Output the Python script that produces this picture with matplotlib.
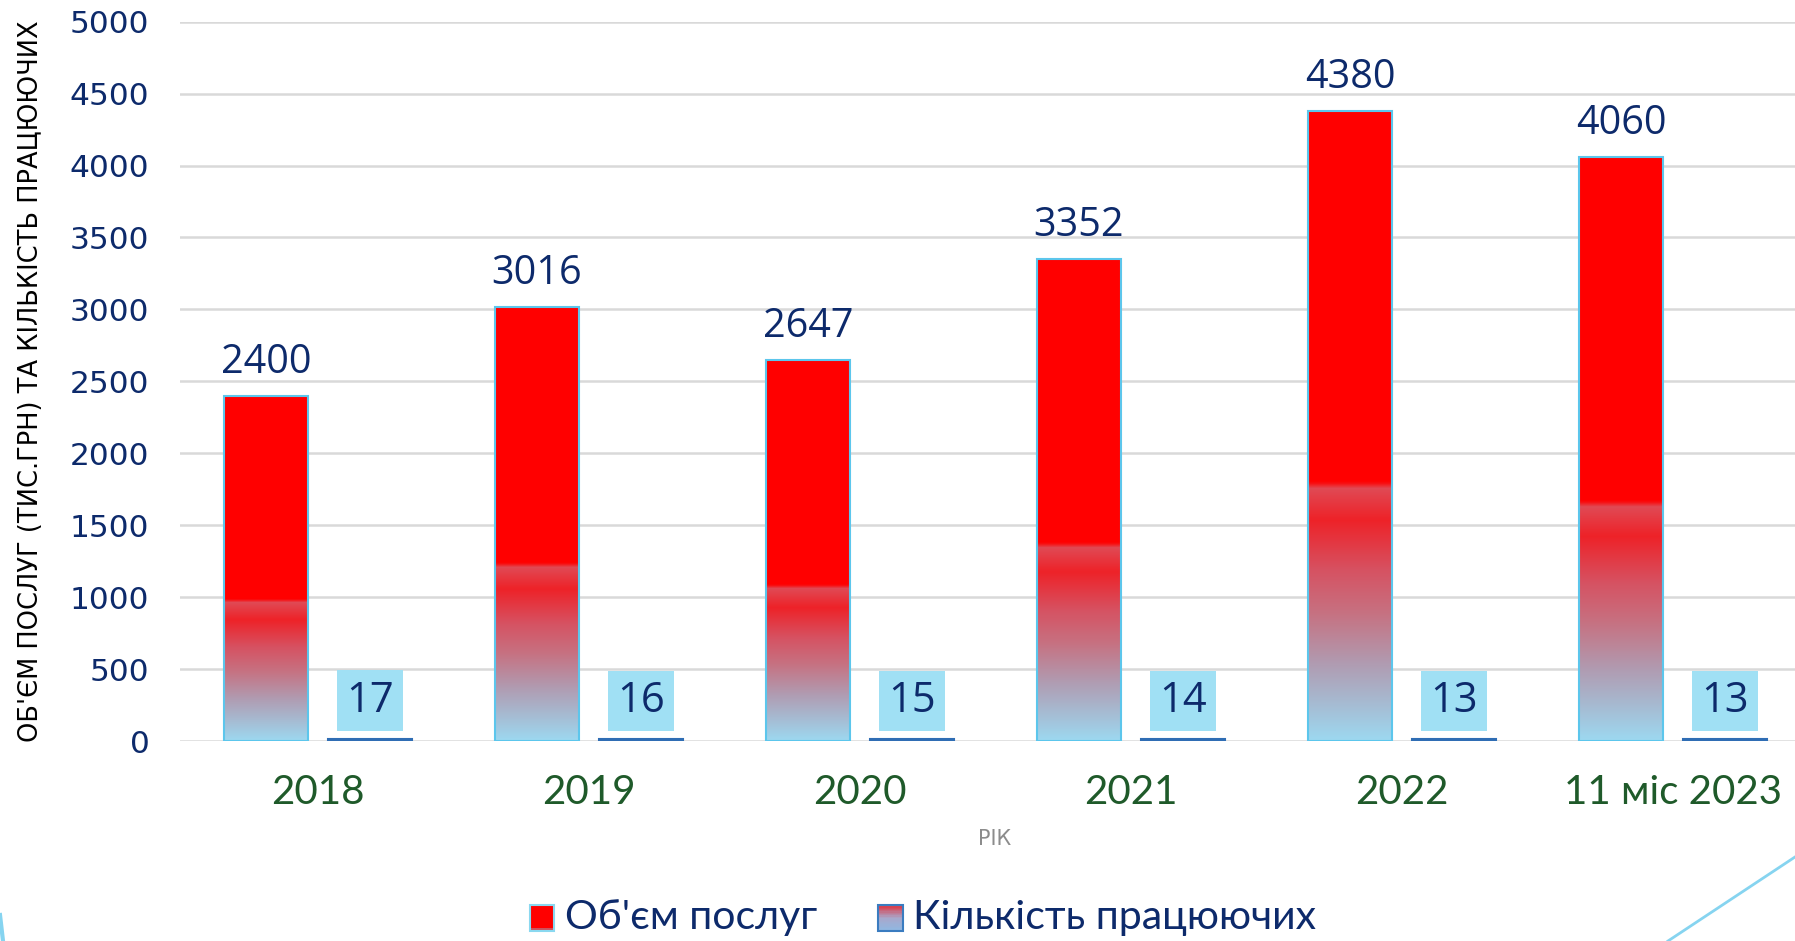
import numpy as np
import matplotlib
matplotlib.use("Agg")
import matplotlib.pyplot as plt
from matplotlib.colors import LinearSegmentedColormap
from matplotlib.patches import Rectangle
from matplotlib.legend_handler import HandlerBase
from matplotlib.lines import Line2D

# -------- data --------
categories = ["2018", "2019", "2020", "2021", "2022", "11 міс 2023"]
volume = [2400, 3016, 2647, 3352, 4380, 4060]      # Об'єм послуг, тис. грн
workers = [17, 16, 15, 14, 13, 13]                 # Кількість працюючих

y_label = "ОБ'ЄМ ПОСЛУГ (ТИС.ГРН) ТА КІЛЬКІСТЬ ПРАЦЮЮЧИХ"
x_label = "РІК"
legend_labels = ["Об'єм послуг", "Кількість працюючих"]

navy = "#0d2a6b"
green = "#1f5a2a"

# gradient of the red bars (bottom -> top)
red_cmap = LinearSegmentedColormap.from_list("redgrad", [
    (0.0, "#9dd8f0"),
    (0.12, "#b09cb2"),
    (0.20, "#c67282"),
    (0.27, "#d65262"),
    (0.35, "#ee2228"),
    (0.40, "#e04a55"),
    (0.41, "#ff0000"),
    (1.0, "#ff0000"),
])
blue_cmap = LinearSegmentedColormap.from_list("bluegrad", [
    (0.0, "#8fb8e2"), (0.5, "#a8a8cc"), (1.0, "#e0303c")])

fig = plt.figure(figsize=(17.95, 9.41), dpi=100)
ax = fig.add_axes([0.1003, 0.2125, 0.8997, 0.7645])

x = np.arange(len(categories))
w = 0.31
off = 0.192

red_bars = ax.bar(x - off, volume, width=w, color="none", edgecolor="#5cc6ec",
                  linewidth=1.5, zorder=3)
grad = np.linspace(0, 1, 256).reshape(-1, 1)
for b in red_bars:
    x0, y0 = b.get_x(), b.get_y()
    im = ax.imshow(grad, cmap=red_cmap, origin="lower", aspect="auto",
                   extent=(x0, x0 + b.get_width(), y0, y0 + b.get_height()),
                   zorder=2, interpolation="bilinear")
    im.set_clip_path(b)

ax.bar(x + off, workers, width=w, color="#4a86c5", edgecolor="#2f6db4",
       linewidth=1.5, zorder=3)

for xi, v in zip(x, volume):
    ax.annotate(str(v), (xi - off, v), xytext=(0, 33), textcoords="offset pixels",
                ha="center", va="center", fontsize=28.5, color=navy,
                family="Open Sans", zorder=5)
for xi, v in zip(x, workers):
    ax.annotate(str(v), (xi + off, v), xytext=(0, 38), textcoords="offset pixels",
                ha="center", va="center", fontsize=30, color=navy,
                family="Open Sans", zorder=5,
                bbox=dict(boxstyle="square,pad=0.22", fc="#a0e0f4", ec="none"))

ax.set_xlim(-0.509, 5.45)
ax.set_ylim(0, 5000)
ax.set_yticks(np.arange(0, 5001, 500))
ax.yaxis.grid(True, color="#d9d9d9", linewidth=1.8, zorder=0)
ax.set_axisbelow(True)
for s in ax.spines.values():
    s.set_visible(False)
ax.tick_params(length=0)
ax.tick_params(axis="y", labelsize=22.5, labelcolor=navy, pad=22)
ax.set_xticks(x)
ax.set_xticklabels(categories, fontsize=29, color=green, family="Lato")
ax.tick_params(axis="x", pad=24)
for lbl in ax.get_yticklabels():
    lbl.set_family("DejaVu Sans")

fig.text(0.554, 1 - 839 / 941, x_label, ha="center", va="center",
         fontsize=15, color="#8c8c8c", family="DejaVu Sans")
fig.text(31 / 1795, 1 - 381 / 941, y_label, rotation=90, ha="center",
         va="center", fontsize=18.5, color="black",
         family=["Liberation Sans Narrow", "DejaVu Sans"])


class GradientHandler(HandlerBase):
    def __init__(self, cmap, edge):
        super().__init__()
        self.cmap = cmap
        self.edge = edge

    def create_artists(self, legend, orig_handle, xdescent, ydescent,
                       width, height, fontsize, trans):
        arts = []
        n = 20
        side = min(width, height * 1.1)
        x0 = -xdescent + width - side
        y0 = -ydescent - 2
        h = side * 1.05
        for i in range(n):
            arts.append(Rectangle((x0, y0 + h * i / n), side, h / n + 0.3,
                                  facecolor=self.cmap((i + 0.5) / n),
                                  edgecolor="none", transform=trans))
        arts.append(Rectangle((x0, y0), side, h, facecolor="none",
                              edgecolor=self.edge, linewidth=1.5,
                              transform=trans))
        return arts


legend_red = LinearSegmentedColormap.from_list("lr", [
    (0.0, "#7fd3f0"), (0.12, "#ff0000"), (1.0, "#ff0000")])
h1 = Line2D([], [])
h2 = Line2D([], [])
leg = fig.legend([h1, h2], legend_labels, loc="center",
                 bbox_to_anchor=(923 / 1795, 1 - 918 / 941), ncol=2,
                 frameon=False, handlelength=0.6, handleheight=0.6,
                 handletextpad=0.25, columnspacing=1.5,
                 prop={"family": "Lato", "size": 29.5},
                 handler_map={h1: GradientHandler(legend_red, "#8ad8f0"),
                              h2: GradientHandler(blue_cmap, "#3a7cc0")})
for t in leg.get_texts():
    t.set_color(navy)

# decorative thin lines in the corners
fig.add_artist(Line2D([1.0, 1668 / 1795], [1 - 857 / 941, 0.0],
                      transform=fig.transFigure, color="#86d4f0", linewidth=2))
fig.add_artist(Line2D([0.0, 3 / 1795], [1 - 915 / 941, 0.0],
                      transform=fig.transFigure, color="#86d4f0", linewidth=3))

fig.savefig("out.png", dpi=100)
